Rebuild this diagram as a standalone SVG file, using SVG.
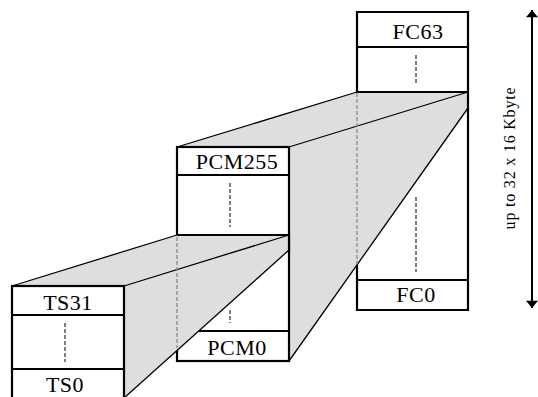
<svg xmlns="http://www.w3.org/2000/svg" width="538" height="397" viewBox="0 0 538 397">
  <defs>
    <style>
      .box { fill: #ffffff; stroke: none; }
      .edge { stroke: #000; stroke-width: 2.2; fill: none; stroke-linecap: square; }
      .row { stroke: #000; stroke-width: 2; fill: none; }
      .dots { stroke: #000; stroke-width: 1; stroke-dasharray: 4 2; fill: none; }
      .hidden { stroke: #8a8a8a; stroke-width: 1.3; stroke-dasharray: 4 2; fill: none; }
      .slab { fill: #dedede; stroke: none; }
      .slab-edge { stroke: #000; stroke-width: 1.3; fill: none; }
      .lbl { font-family: "Liberation Serif", "Times New Roman", serif; font-size: 22px; letter-spacing: 0.5px; fill: #000; text-anchor: middle; }
      .dim { font-family: "Liberation Serif", "Times New Roman", serif; font-size: 16px; letter-spacing: 0.8px; fill: #000; text-anchor: middle; }
    </style>
    <marker id="head" viewBox="0 0 12 20" refX="12" refY="10" markerWidth="20" markerHeight="12" markerUnits="userSpaceOnUse" orient="auto-start-reverse">
      <path d="M0,0 L12,10 L0,20 Z" fill="#000"/>
    </marker>
  </defs>

  <!-- FC store (back) -->
  <g id="fc">
    <rect class="box" x="357" y="12" width="111" height="298"/>
    <line class="dots" x1="416" y1="55" x2="416" y2="85"/>
    <line class="dots" x1="416" y1="197" x2="416" y2="272"/>
    <text class="lbl" x="418" y="39">FC63</text>
    <text class="lbl" x="416" y="302">FC0</text>
  </g>

  <!-- slab between PCM and FC -->
  <g id="connectors">
    <g id="slab-pcm-fc">
      <polygon class="slab" points="177,147 357,92 468,92 468,108 289,361 289,147"/>
      <line class="slab-edge" x1="177" y1="147" x2="357" y2="92"/>
      <line class="slab-edge" x1="289" y1="147" x2="468" y2="92"/>
      <line class="slab-edge" x1="289" y1="361" x2="468" y2="108"/>
      <line class="hidden" x1="357" y1="93" x2="357" y2="264"/>
    </g>
  </g>

  <!-- FC outline over slab -->
  <g id="fc-frame">
    <polyline class="edge" points="357,92 357,12 468,12 468,310 357,310 357,266"/>
    <line class="row" x1="357" y1="47" x2="468" y2="47"/>
    <line class="row" x1="357" y1="92" x2="468" y2="92"/>
    <line class="row" x1="357" y1="280" x2="468" y2="280"/>
  </g>

  <!-- PCM store (middle) -->
  <g id="pcm">
    <rect class="box" x="177" y="147" width="112" height="214"/>
    <line class="dots" x1="230" y1="183" x2="230" y2="227"/>
    <line class="dots" x1="230" y1="310" x2="230" y2="323"/>
    <text class="lbl" x="237" y="169">PCM255</text>
    <text class="lbl" x="237" y="355">PCM0</text>
    <line class="row" x1="177" y1="175" x2="289" y2="175"/>
    <line class="row" x1="177" y1="331" x2="289" y2="331"/>
    <rect class="edge" x="177" y="147" width="112" height="214"/>
  </g>

  <!-- slab between TS and PCM -->
  <g id="slab-ts-pcm">
    <polygon class="slab" points="12,286 177,235 289,235 289,250 124,398 124,286"/>
    <line class="slab-edge" x1="12" y1="286" x2="177" y2="235"/>
    <line class="slab-edge" x1="124" y1="286" x2="289" y2="235"/>
    <line class="slab-edge" x1="124" y1="398" x2="289" y2="250"/>
    <line class="hidden" x1="177" y1="237" x2="177" y2="348"/>
    <line class="row" x1="177" y1="235" x2="289" y2="235"/>
    <line class="edge" x1="289" y1="235" x2="289" y2="251"/>
  </g>

  <!-- TS store (front) -->
  <g id="ts">
    <rect class="box" x="12" y="286" width="112" height="114"/>
    <line class="dots" x1="65" y1="323" x2="65" y2="362"/>
    <text class="lbl" x="68" y="310">TS31</text>
    <text class="lbl" x="65" y="392">TS0</text>
    <line class="row" x1="12" y1="315" x2="124" y2="315"/>
    <line class="row" x1="12" y1="369" x2="124" y2="369"/>
    <rect class="edge" x="12" y="286" width="112" height="114"/>
  </g>

  <!-- size dimension -->
  <g id="size">
    <line x1="532" y1="10" x2="532" y2="308" stroke="#000" stroke-width="2" marker-start="url(#head)" marker-end="url(#head)"/>
    <text class="dim" transform="translate(515,158) rotate(-90)">up to 32 x 16 Kbyte</text>
  </g>
</svg>
